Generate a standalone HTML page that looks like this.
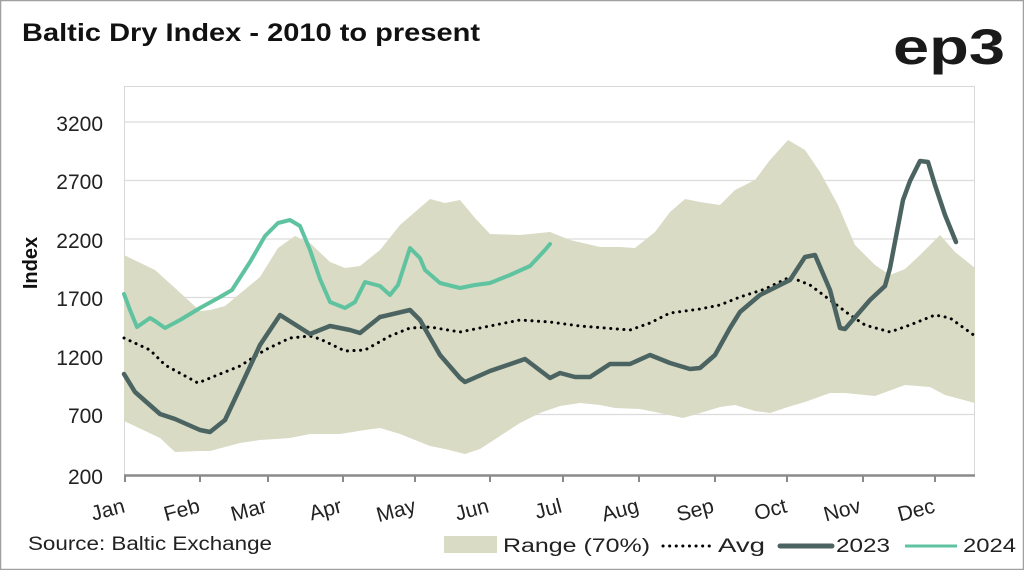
<!DOCTYPE html>
<html><head><meta charset="utf-8"><style>
html,body{margin:0;padding:0;background:#fff}
body{width:1024px;height:570px;overflow:hidden}
svg text{font-family:"Liberation Sans",sans-serif}
</style></head><body>
<svg width="1024" height="570" viewBox="0 0 1024 570" xmlns="http://www.w3.org/2000/svg">
<rect x="0.5" y="0.5" width="1023" height="569" fill="#fff" stroke="#a0a0a0" stroke-width="1.5"/>
<text x="22" y="41" font-size="25" font-weight="bold" fill="#111" textLength="458" lengthAdjust="spacingAndGlyphs">Baltic Dry Index - 2010 to present</text>
<text x="893" y="64" font-size="50" font-weight="bold" fill="#1a1a1a" textLength="112" lengthAdjust="spacingAndGlyphs">ep3</text>
<rect x="124.5" y="86.5" width="850" height="389" fill="#fff" stroke="#d8d8d8"/>
<g stroke="#dcdcdc" stroke-width="1.2">
<line x1="125" y1="122" x2="975" y2="122"/><line x1="125" y1="180.5" x2="975" y2="180.5"/><line x1="125" y1="239" x2="975" y2="239"/><line x1="125" y1="297.5" x2="975" y2="297.5"/><line x1="125" y1="356" x2="975" y2="356"/><line x1="125" y1="414.5" x2="975" y2="414.5"/>
</g>
<polygon fill="#d9dbc5" points="124,255 155,270 175,288 200,311 210,310 225,306 260,277 278,248 295,236 310,243 330,262 345,268 360,266 380,250 400,225 430,199 445,203 460,200 475,218 490,234 520,235 550,232 570,240 600,247 620,247 635,248 655,232 670,212 685,199 700,202 720,205 735,190 755,180 770,160 788,140 805,150 820,172 838,205 855,245 875,265 890,275 905,269 920,255 940,235 955,252 975,268 975,403 945,395 930,387 905,385 875,396 845,393 830,393 805,402 788,407 770,413 755,411 735,405 720,407 697,414 683,418 655,412 640,409 615,408 600,405 580,403 560,406 540,413 520,423 500,436 480,449 465,454 445,449 430,446 400,434 380,428 365,430 340,434 310,434 290,438 260,440 240,443 210,451 200,451 175,452 160,438 124,421"/>
<line x1="124" y1="475.5" x2="975" y2="475.5" stroke="#8a8a8a" stroke-width="2.5"/>
<g stroke="#8a8a8a" stroke-width="2"><line x1="125" y1="475" x2="125" y2="482"/><line x1="200" y1="475" x2="200" y2="482"/><line x1="268" y1="475" x2="268" y2="482"/><line x1="343" y1="475" x2="343" y2="482"/><line x1="415" y1="475" x2="415" y2="482"/><line x1="490" y1="475" x2="490" y2="482"/><line x1="563" y1="475" x2="563" y2="482"/><line x1="639" y1="475" x2="639" y2="482"/><line x1="715" y1="475" x2="715" y2="482"/><line x1="787" y1="475" x2="787" y2="482"/><line x1="863" y1="475" x2="863" y2="482"/><line x1="935" y1="475" x2="935" y2="482"/></g>
<polyline fill="none" stroke="#000" stroke-width="3" stroke-dasharray="0.1 6.5" stroke-linecap="round" points="124,338 150,350 165,365 198,383 215,376 240,366 265,350 290,338 310,336 320,339 345,351 365,350 390,336 410,328 430,327 460,332 490,326 520,320 550,322 580,326 630,330 650,323 670,313 700,309 720,305 740,297 765,289 790,277 810,285 830,300 850,315 865,325 890,332 910,325 935,315 950,318 975,336"/>
<polyline fill="none" stroke="#4c6461" stroke-width="4.5" stroke-linejoin="round" stroke-linecap="round" points="124,374 135,392 160,414 175,419 200,430 210,432 225,420 240,388 260,345 280,315 310,334 330,326 350,330 360,333 380,317 410,310 420,320 440,355 460,378 465,382 490,371 525,359 550,378 560,373 575,377 590,377 610,364 630,364 650,355 670,363 690,369 700,368 715,355 730,328 740,312 760,295 780,285 790,280 805,257 815,255 830,290 840,328 845,329 870,300 885,286 890,268 903,200 910,181 920,161 928,162 935,185 945,215 956,242"/>
<polyline fill="none" stroke="#5fc3a0" stroke-width="4" stroke-linejoin="round" stroke-linecap="round" points="124,294 130,310 137,327 150,318 155,321 165,328 180,320 200,308 220,297 232,290 250,262 265,236 278,223 290,220 300,226 310,250 320,279 330,302 345,308 355,302 365,282 380,286 390,295 398,285 410,248 420,258 425,270 440,283 460,288 475,285 490,283 510,275 530,266 545,250 550,244"/>
<g font-size="21" fill="#222" text-anchor="end">
<text x="103" y="131">3200</text><text x="103" y="189">2700</text><text x="103" y="248">2200</text><text x="103" y="306">1700</text><text x="103" y="365">1200</text><text x="103" y="423">700</text><text x="103" y="484">200</text>
</g>
<text transform="translate(37,263) rotate(-90)" font-size="20" font-weight="bold" text-anchor="middle" fill="#111">Index</text>
<g font-size="21" fill="#222" text-anchor="end">
<text transform="translate(126,512) rotate(-15)">Jan</text>
<text transform="translate(201,512) rotate(-15)">Feb</text>
<text transform="translate(268,512) rotate(-15)">Mar</text>
<text transform="translate(343,512) rotate(-15)">Apr</text>
<text transform="translate(417,512) rotate(-15)">May</text>
<text transform="translate(490,512) rotate(-15)">Jun</text>
<text transform="translate(563,512) rotate(-15)">Jul</text>
<text transform="translate(640,512) rotate(-15)">Aug</text>
<text transform="translate(715,512) rotate(-15)">Sep</text>
<text transform="translate(788,512) rotate(-15)">Oct</text>
<text transform="translate(862,512) rotate(-15)">Nov</text>
<text transform="translate(936,512) rotate(-15)">Dec</text>
</g>
<text x="28" y="550" font-size="19" fill="#222" textLength="244" lengthAdjust="spacingAndGlyphs">Source: Baltic Exchange</text>
<rect x="444" y="536" width="53" height="17" fill="#d9dbc5"/>
<text x="503" y="552" font-size="19" fill="#222" textLength="147" lengthAdjust="spacingAndGlyphs">Range (70%)</text>
<line x1="663" y1="546" x2="710" y2="546" stroke="#000" stroke-width="3" stroke-dasharray="0.1 6.5" stroke-linecap="round"/>
<text x="718" y="552" font-size="19" fill="#222" textLength="47" lengthAdjust="spacingAndGlyphs">Avg</text>
<line x1="780" y1="546" x2="832" y2="546" stroke="#4c6461" stroke-width="5" stroke-linecap="round"/>
<text x="836" y="552" font-size="19" fill="#222" textLength="54" lengthAdjust="spacingAndGlyphs">2023</text>
<line x1="905" y1="546" x2="957" y2="546" stroke="#5fc3a0" stroke-width="3"/>
<text x="963" y="552" font-size="19" fill="#222" textLength="53" lengthAdjust="spacingAndGlyphs">2024</text>
</svg>
</body></html>
